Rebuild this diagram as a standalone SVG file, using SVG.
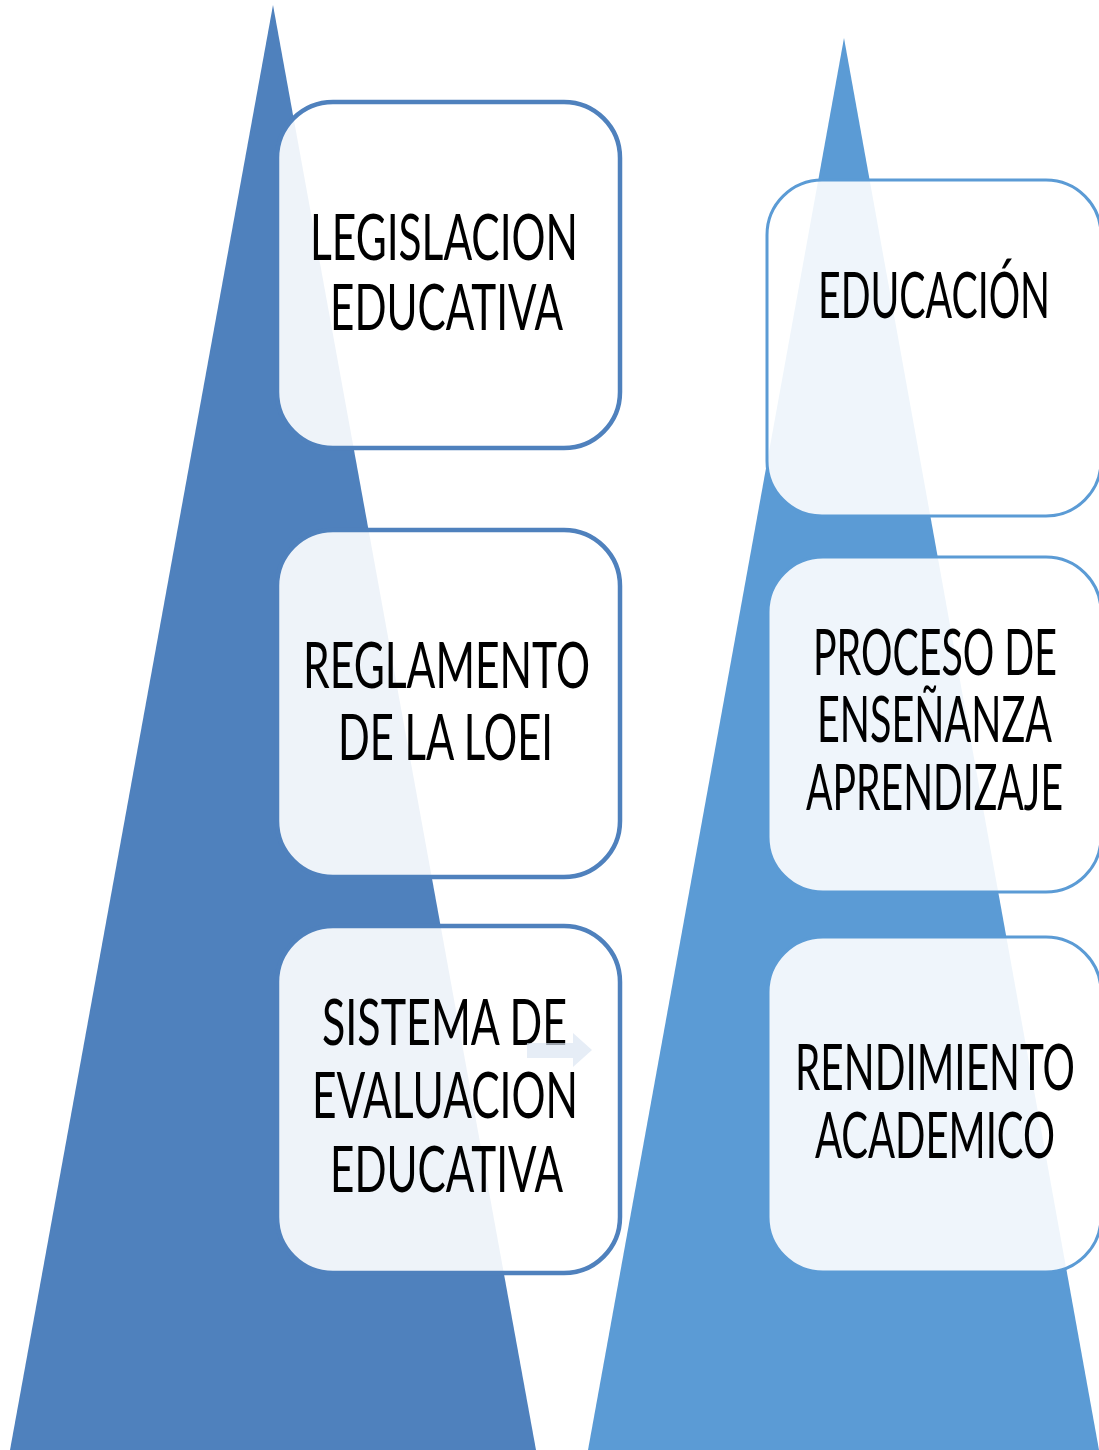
<svg xmlns="http://www.w3.org/2000/svg" width="1099" height="1450" viewBox="0 0 1099 1450">
<style>
.tri-l{fill:#4F81BD}
.tri-r{fill:#5B9BD5}
.box-l{fill:#FFFFFF;fill-opacity:0.9;stroke:#4F81BD;stroke-width:4.5}
.box-r{fill:#FFFFFF;fill-opacity:0.9;stroke:#5B9BD5;stroke-width:3}
.lbl{font-family:Lato,"Open Sans","Liberation Sans",sans-serif;font-size:42px;fill:#000000;text-anchor:middle}
.arr{fill:#DCE6F2;fill-opacity:0.7}
</style>
<rect width="1099" height="1450" fill="#FFFFFF"/>
<g id="triangle-left"><polygon class="tri-l" points="273,5 10,1450 536,1450"/></g>
<g id="triangle-right"><polygon class="tri-r" points="844,38 588,1450 1099,1450"/></g>
<g id="node-legislacion">
<rect class="box-l" x="277" y="102" width="343" height="346" rx="56"/>
<text class="lbl" transform="translate(444,260) scale(1,1.52)" textLength="268" lengthAdjust="spacingAndGlyphs">LEGISLACION</text>
<text class="lbl" transform="translate(446.5,330) scale(1,1.52)" textLength="233" lengthAdjust="spacingAndGlyphs">EDUCATIVA</text>
</g>
<g id="node-reglamento">
<rect class="box-l" x="277" y="530" width="343" height="347" rx="56"/>
<text class="lbl" transform="translate(446.5,688) scale(1,1.52)" textLength="287" lengthAdjust="spacingAndGlyphs">REGLAMENTO</text>
<text class="lbl" transform="translate(445.5,760) scale(1,1.52)" textLength="215" lengthAdjust="spacingAndGlyphs">DE LA LOEI</text>
</g>
<g id="node-sistema">
<rect class="box-l" x="277" y="926" width="343" height="347" rx="56"/>
<text class="lbl" transform="translate(444.5,1045) scale(1,1.52)" textLength="245" lengthAdjust="spacingAndGlyphs">SISTEMA DE</text>
<text class="lbl" transform="translate(445,1118) scale(1,1.52)" textLength="266" lengthAdjust="spacingAndGlyphs">EVALUACION</text>
<text class="lbl" transform="translate(446.5,1192) scale(1,1.52)" textLength="233" lengthAdjust="spacingAndGlyphs">EDUCATIVA</text>
</g>
<g id="node-educacion">
<rect class="box-r" x="767" y="180" width="334" height="336" rx="55"/>
<text class="lbl" transform="translate(934,318) scale(1,1.52)" textLength="232" lengthAdjust="spacingAndGlyphs">EDUCACIÓN</text>
</g>
<g id="node-proceso">
<rect class="box-r" x="768" y="557" width="333" height="335" rx="55"/>
<text class="lbl" transform="translate(935,675) scale(1,1.52)" textLength="244" lengthAdjust="spacingAndGlyphs">PROCESO DE</text>
<text class="lbl" transform="translate(934.5,742) scale(1,1.52)" textLength="235" lengthAdjust="spacingAndGlyphs">ENSEÑANZA</text>
<text class="lbl" transform="translate(934.5,810) scale(1,1.52)" textLength="257" lengthAdjust="spacingAndGlyphs">APRENDIZAJE</text>
</g>
<g id="node-rendimiento">
<rect class="box-r" x="768" y="937" width="333" height="335" rx="55"/>
<text class="lbl" transform="translate(935,1090) scale(1,1.52)" textLength="280" lengthAdjust="spacingAndGlyphs">RENDIMIENTO</text>
<text class="lbl" transform="translate(935,1158) scale(1,1.52)" textLength="240" lengthAdjust="spacingAndGlyphs">ACADEMICO</text>
</g>
<g id="connectors">
<polygon class="arr" points="527,1043 573,1043 573,1033 592,1050 573,1067 573,1058 527,1058"/>
</g>
</svg>
